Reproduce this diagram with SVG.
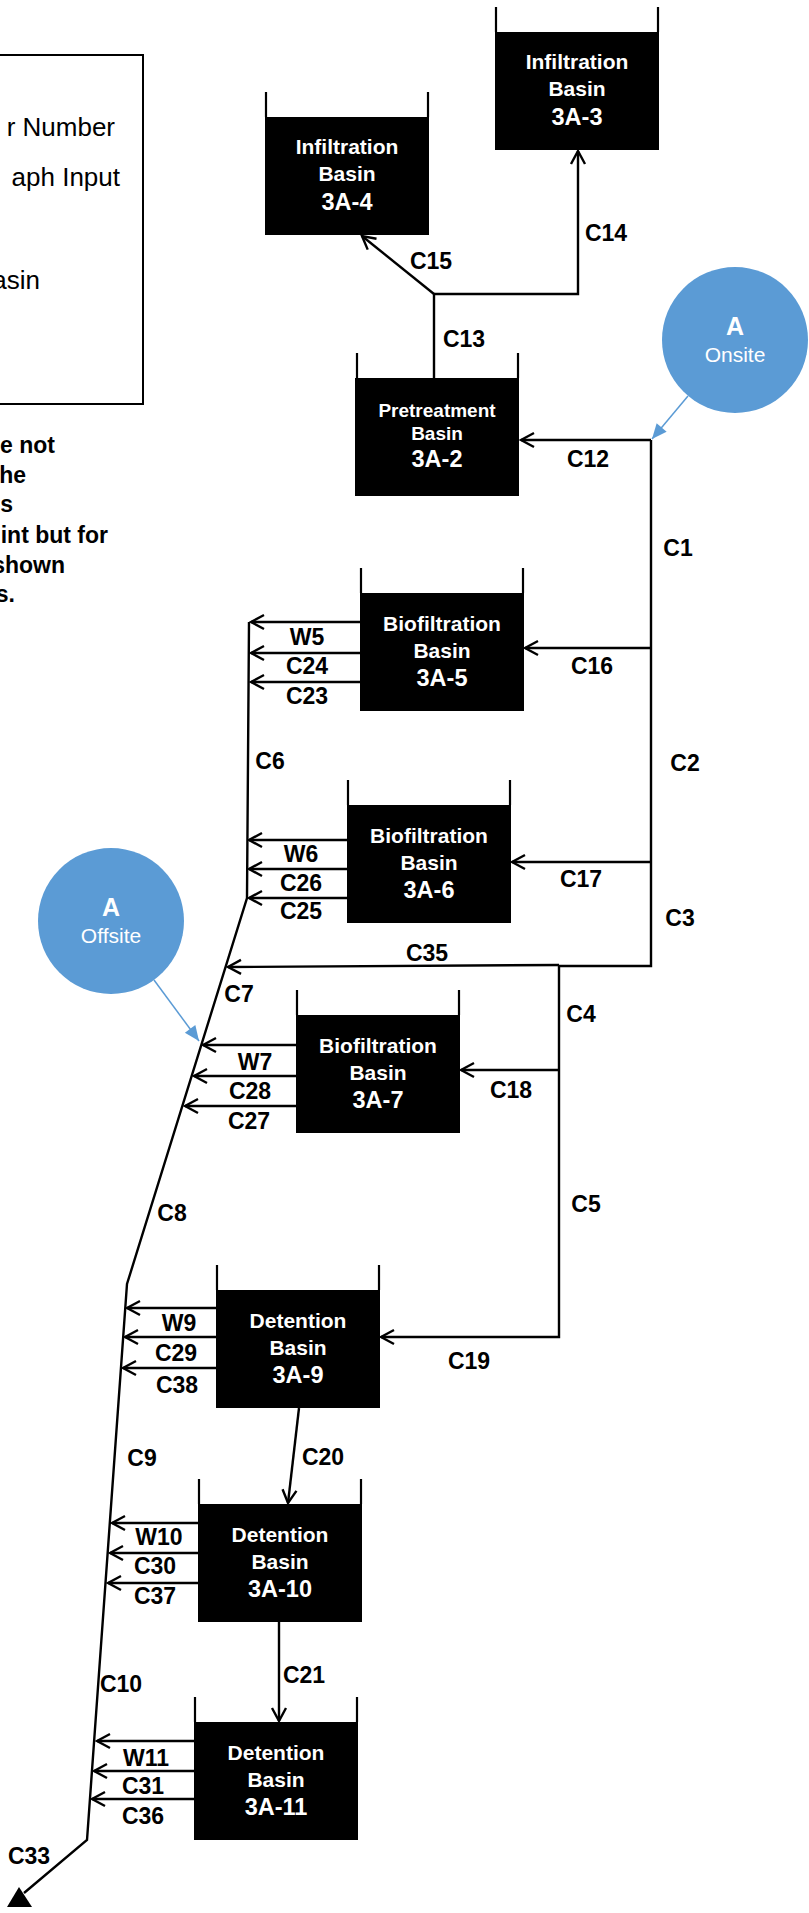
<svg xmlns="http://www.w3.org/2000/svg" width="809" height="1913" viewBox="0 0 809 1913">
<style>
.bg{fill:#fff}
.basin{fill:#000}
.wall{stroke:#000;stroke-width:2.2;fill:none}
.bt{font-family:"Liberation Sans",Arial,sans-serif;font-weight:bold;fill:#fff;text-anchor:middle}
.bn{font-size:21px}
.bid{font-size:23.5px}
.ln{stroke:#000;stroke-width:2.4;fill:none}
.arr{marker-end:url(#ah)}
.lbl{font-family:"Liberation Sans",Arial,sans-serif;font-weight:bold;font-size:23px;fill:#000;text-anchor:middle}
.blue{stroke:#5B9BD5;stroke-width:1.5;fill:none;marker-end:url(#bh)}
.circ{fill:#5B9BD5}
.ct{font-family:"Liberation Sans",Arial,sans-serif;fill:#fff;text-anchor:middle}
.leg{font-family:"Liberation Sans",Arial,sans-serif;font-size:26px;fill:#000;text-anchor:end}
.note{font-family:"Liberation Sans",Arial,sans-serif;font-weight:bold;font-size:23px;fill:#000;text-anchor:end}
</style>
<defs>
<marker id="ah" viewBox="-15 -9 17 18" refX="0" refY="0" markerWidth="17" markerHeight="18" markerUnits="userSpaceOnUse" orient="auto">
<path d="M-13,-7 L0,0 L-13,7" fill="none" stroke="#000" stroke-width="2.4"/>
</marker>
<marker id="bh" viewBox="-16 -8 17 16" refX="0" refY="0" markerWidth="17" markerHeight="16" markerUnits="userSpaceOnUse" orient="auto">
<path d="M-15,-6.5 L0,0 L-15,6.5 Z" fill="#5B9BD5"/>
</marker>
</defs>
<rect class="bg" x="0" y="0" width="809" height="1913"/>

<g id="legend">
<rect x="-10" y="55" width="153" height="349" fill="none" stroke="#000" stroke-width="2"/>
<text class="leg" x="115" y="136">r Number</text>
<text class="leg" x="120" y="186">aph Input</text>
<text class="leg" x="40" y="289">asin</text>
</g>
<g id="note">
<text class="note" x="55" y="453">e not</text>
<text class="note" x="26" y="483">he</text>
<text class="note" x="13" y="512">s</text>
<text class="note" x="108" y="543">int but for</text>
<text class="note" x="65" y="573">shown</text>
<text class="note" x="15" y="602">s.</text>
</g>

<g id="connectors">
<path class="ln arr" d="M651,440 L521,440"/>
<path class="ln" d="M651,440 L651,966 L559,966"/>
<path class="ln arr" d="M651,648 L525,648"/>
<path class="ln arr" d="M651,862 L512,862"/>
<path class="ln arr" d="M559,965 L228,967"/>
<path class="ln arr" d="M559,966 L559,1337 L381,1337"/>
<path class="ln arr" d="M559,1070 L461,1070"/>
<path class="ln arr" d="M434,378 L434,294 L578,294 L578,151"/>
<path class="ln arr" d="M434,294 L362,236"/>
<path class="ln arr" d="M299,1408 L288,1503"/>
<path class="ln arr" d="M279,1622 L279,1721"/>
<path class="ln" d="M249,622 L247,898 L127,1284 L87,1840 L24,1893"/>
<polygon points="7,1907 32,1907 19,1887" fill="#000"/>
<path class="ln arr" d="M360,622 L251,622"/>
<path class="ln arr" d="M360,653 L251,653"/>
<path class="ln arr" d="M360,682 L251,682"/>
<path class="ln arr" d="M347,840 L249,840"/>
<path class="ln arr" d="M347,869 L249,869"/>
<path class="ln arr" d="M347,898 L249,898"/>
<path class="ln arr" d="M296,1045 L203,1045"/>
<path class="ln arr" d="M296,1076 L194,1076"/>
<path class="ln arr" d="M296,1106 L185,1106"/>
<path class="ln arr" d="M216,1308 L127,1308"/>
<path class="ln arr" d="M216,1337 L125,1337"/>
<path class="ln arr" d="M216,1368 L123,1368"/>
<path class="ln arr" d="M198,1523 L112,1523"/>
<path class="ln arr" d="M198,1553 L110,1553"/>
<path class="ln arr" d="M198,1583 L108,1583"/>
<path class="ln arr" d="M194,1741 L97,1741"/>
<path class="ln arr" d="M194,1771 L94,1771"/>
<path class="ln arr" d="M194,1799 L92,1799"/>
<path class="blue" d="M688,396 L652,439"/>
<path class="blue" d="M154,980 L199,1041"/>
<text class="lbl" x="431" y="269">C15</text>
<text class="lbl" x="606" y="241">C14</text>
<text class="lbl" x="464" y="347">C13</text>
<text class="lbl" x="588" y="467">C12</text>
<text class="lbl" x="678" y="556">C1</text>
<text class="lbl" x="592" y="674">C16</text>
<text class="lbl" x="685" y="771">C2</text>
<text class="lbl" x="581" y="887">C17</text>
<text class="lbl" x="680" y="926">C3</text>
<text class="lbl" x="427" y="961">C35</text>
<text class="lbl" x="581" y="1022">C4</text>
<text class="lbl" x="511" y="1098">C18</text>
<text class="lbl" x="586" y="1212">C5</text>
<text class="lbl" x="469" y="1369">C19</text>
<text class="lbl" x="323" y="1465">C20</text>
<text class="lbl" x="304" y="1683">C21</text>
<text class="lbl" x="270" y="769">C6</text>
<text class="lbl" x="239" y="1002">C7</text>
<text class="lbl" x="172" y="1221">C8</text>
<text class="lbl" x="142" y="1466">C9</text>
<text class="lbl" x="121" y="1692">C10</text>
<text class="lbl" x="29" y="1864">C33</text>
<text class="lbl" x="307" y="645">W5</text>
<text class="lbl" x="307" y="674">C24</text>
<text class="lbl" x="307" y="704">C23</text>
<text class="lbl" x="301" y="862">W6</text>
<text class="lbl" x="301" y="891">C26</text>
<text class="lbl" x="301" y="919">C25</text>
<text class="lbl" x="255" y="1070">W7</text>
<text class="lbl" x="250" y="1099">C28</text>
<text class="lbl" x="249" y="1129">C27</text>
<text class="lbl" x="179" y="1331">W9</text>
<text class="lbl" x="176" y="1361">C29</text>
<text class="lbl" x="177" y="1393">C38</text>
<text class="lbl" x="159" y="1545">W10</text>
<text class="lbl" x="155" y="1574">C30</text>
<text class="lbl" x="155" y="1604">C37</text>
<text class="lbl" x="146" y="1766">W11</text>
<text class="lbl" x="143" y="1794">C31</text>
<text class="lbl" x="143" y="1824">C36</text>
</g>

<g id="onsite">
<circle class="circ" cx="735" cy="340" r="73"/>
<text class="ct" x="735" y="335" font-size="25" font-weight="bold">A</text>
<text class="ct" x="735" y="362" font-size="21">Onsite</text>
</g>
<g id="offsite">
<circle class="circ" cx="111" cy="921" r="73"/>
<text class="ct" x="111" y="916" font-size="25" font-weight="bold">A</text>
<text class="ct" x="111" y="943" font-size="21">Offsite</text>
</g>

<g id="basin-3A-3">
<rect class="basin" x="495" y="32" width="164" height="118"/>
<path class="wall" d="M496,7 V32 M658,7 V32"/>
<text class="bt bn" x="577" y="69">Infiltration</text>
<text class="bt bn" x="577" y="96">Basin</text>
<text class="bt bid" x="577" y="125">3A-3</text>
</g>
<g id="basin-3A-4">
<rect class="basin" x="265" y="117" width="164" height="118"/>
<path class="wall" d="M266,92 V117 M428,92 V117"/>
<text class="bt bn" x="347" y="154">Infiltration</text>
<text class="bt bn" x="347" y="181">Basin</text>
<text class="bt bid" x="347" y="210">3A-4</text>
</g>
<g id="basin-3A-2">
<rect class="basin" x="355" y="378" width="164" height="118"/>
<path class="wall" d="M357,353 V378 M518,353 V378"/>
<text class="bt" x="437" y="417" font-size="19">Pretreatment</text>
<text class="bt" x="437" y="440" font-size="19">Basin</text>
<text class="bt bid" x="437" y="467">3A-2</text>
</g>
<g id="basin-3A-5">
<rect class="basin" x="360" y="593" width="164" height="118"/>
<path class="wall" d="M361,568 V593 M523,568 V593"/>
<text class="bt bn" x="442" y="631">Biofiltration</text>
<text class="bt bn" x="442" y="658">Basin</text>
<text class="bt bid" x="442" y="686">3A-5</text>
</g>
<g id="basin-3A-6">
<rect class="basin" x="347" y="805" width="164" height="118"/>
<path class="wall" d="M348,780 V805 M510,780 V805"/>
<text class="bt bn" x="429" y="843">Biofiltration</text>
<text class="bt bn" x="429" y="870">Basin</text>
<text class="bt bid" x="429" y="898">3A-6</text>
</g>
<g id="basin-3A-7">
<rect class="basin" x="296" y="1015" width="164" height="118"/>
<path class="wall" d="M297,990 V1015 M459,990 V1015"/>
<text class="bt bn" x="378" y="1053">Biofiltration</text>
<text class="bt bn" x="378" y="1080">Basin</text>
<text class="bt bid" x="378" y="1108">3A-7</text>
</g>
<g id="basin-3A-9">
<rect class="basin" x="216" y="1290" width="164" height="118"/>
<path class="wall" d="M217,1265 V1290 M379,1265 V1290"/>
<text class="bt bn" x="298" y="1328">Detention</text>
<text class="bt bn" x="298" y="1355">Basin</text>
<text class="bt bid" x="298" y="1383">3A-9</text>
</g>
<g id="basin-3A-10">
<rect class="basin" x="198" y="1504" width="164" height="118"/>
<path class="wall" d="M199,1479 V1504 M361,1479 V1504"/>
<text class="bt bn" x="280" y="1542">Detention</text>
<text class="bt bn" x="280" y="1569">Basin</text>
<text class="bt bid" x="280" y="1597">3A-10</text>
</g>
<g id="basin-3A-11">
<rect class="basin" x="194" y="1722" width="164" height="118"/>
<path class="wall" d="M195,1697 V1722 M357,1697 V1722"/>
<text class="bt bn" x="276" y="1760">Detention</text>
<text class="bt bn" x="276" y="1787">Basin</text>
<text class="bt bid" x="276" y="1815">3A-11</text>
</g>
</svg>
